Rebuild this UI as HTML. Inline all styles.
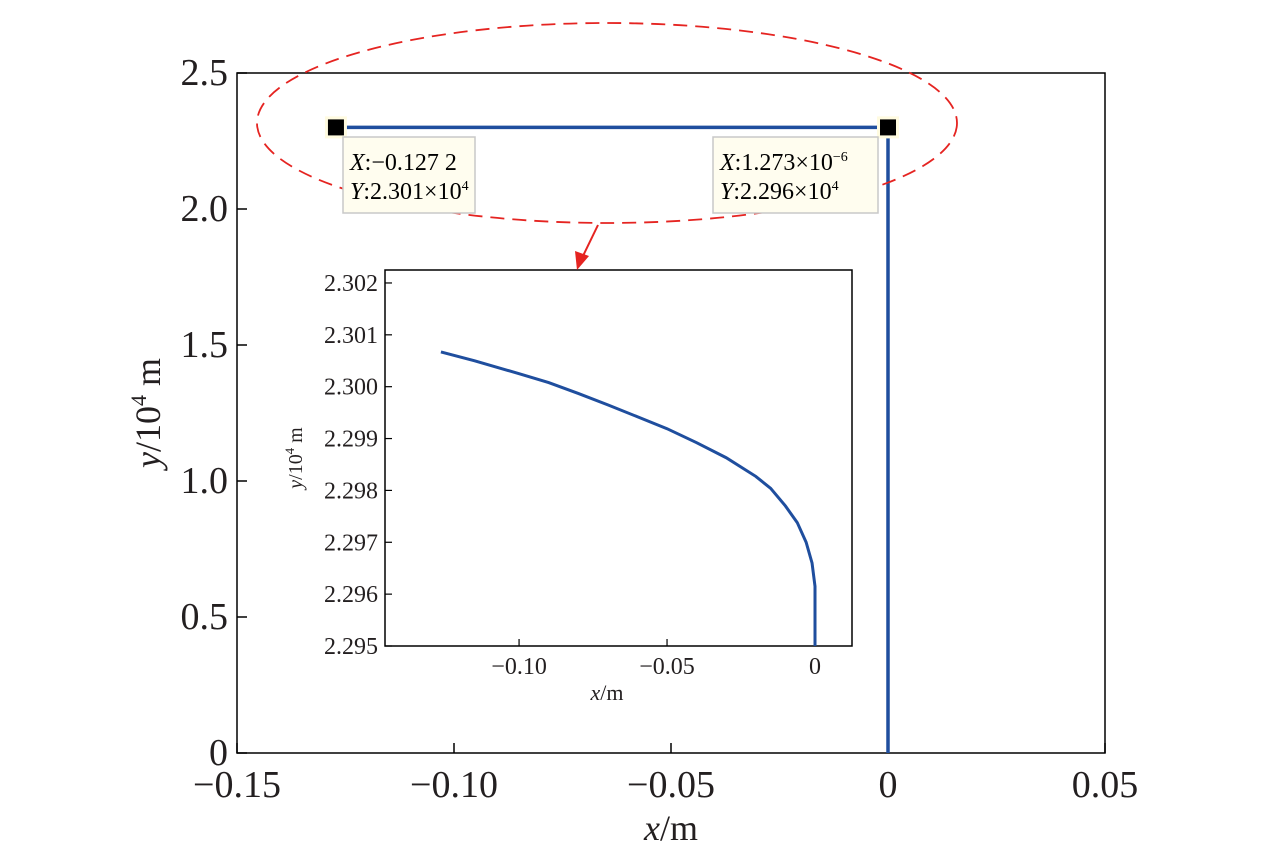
<!DOCTYPE html>
<html><head><meta charset="utf-8"><style>
body{margin:0;background:#fff}
svg{font-family:"Liberation Serif",serif}
</style></head><body>
<svg width="1276" height="849" viewBox="0 0 1276 849">
<g id="main"></g>
<g id="inset"></g>
<g>
<ellipse cx="607" cy="123" rx="350" ry="100" fill="none" stroke="#e52421" stroke-width="1.8" stroke-dasharray="14,8"/>
<line x1="598" y1="225" x2="582" y2="258" stroke="#e52421" stroke-width="2"/>
<polygon points="577,270 575,251 589,256" fill="#e52421"/>
</g>
<g>
<rect x="343" y="137" width="132" height="76" fill="#fffdef" stroke="#c8c8c8" stroke-width="1.5"/>
<text x="350" y="170" font-size="24"><tspan font-style="italic">X</tspan>:−0.127 2</text>
<text x="350" y="199" font-size="24"><tspan font-style="italic">Y</tspan>:2.301×10<tspan font-size="14" dy="-9">4</tspan></text>
</g>
<g>
<rect x="713" y="137" width="165" height="76" fill="#fffdef" stroke="#c8c8c8" stroke-width="1.5"/>
<text x="720" y="170" font-size="24"><tspan font-style="italic">X</tspan>:1.273×10<tspan font-size="14" dy="-9">−6</tspan></text>
<text x="720" y="199" font-size="24"><tspan font-style="italic">Y</tspan>:2.296×10<tspan font-size="14" dy="-9">4</tspan></text>
</g>
</svg>
<script>
const NS="http://www.w3.org/2000/svg";
function mk(p,t,a,txt){const e=document.createElementNS(NS,t);for(const k in a)e.setAttribute(k,a[k]);if(txt!=null)e.textContent=txt;p.appendChild(e);return e;}
// main data
const mainX=[-0.1272,0.0000,0.0000];
const mainY=[2.30,2.30,0];
const mainXTicks=[-0.15,-0.10,-0.05,0,0.05];
const mainXLabels=["−0.15","−0.10","−0.05","0","0.05"];
const mainYTicks=[0,0.5,1.0,1.5,2.0,2.5];
const mainYLabels=["0","0.5","1.0","1.5","2.0","2.5"];
const tipX=[-0.1272,0.000001273];
const tipY=[2.30,2.30];
// inset data
const inX=[-0.1264,-0.115,-0.10,-0.09,-0.08,-0.07,-0.06,-0.05,-0.04,-0.03,-0.02,-0.015,-0.01,-0.006,-0.003,-0.001,0,0];
const inY=[2.30067,2.30050,2.30025,2.30008,2.29987,2.29965,2.29942,2.29919,2.29892,2.29863,2.29827,2.29804,2.29770,2.29738,2.29700,2.29660,2.29615,2.295];
const inXTicks=[-0.10,-0.05,0];
const inXLabels=["−0.10","−0.05","0"];
const inYTicks=[2.295,2.296,2.297,2.298,2.299,2.300,2.301,2.302];
const inYLabels=["2.295","2.296","2.297","2.298","2.299","2.300","2.301","2.302"];

const M=document.getElementById('main');
const mx=v=>237+(v+0.15)/0.2*868, my=v=>753-v/2.5*680;
let r=mk(M,'rect',{x:237,y:73,width:868,height:680,fill:'none',stroke:'#000','stroke-width':1.5});

mainXTicks.forEach((t,i)=>{const x=mx(t);
 let l=mk(M,'line',{x1:x,y1:753,x2:x,y2:743,stroke:'#000','stroke-width':1.5});
 
 let tx=mk(M,'text',{x:x,y:797,'font-size':38,'text-anchor':'middle',fill:'#231f20'},mainXLabels[i]);
 });
mainYTicks.forEach((t,i)=>{const y=my(t);
 let l=mk(M,'line',{x1:237,y1:y,x2:247,y2:y,stroke:'#000','stroke-width':1.5});
 
 let tx=mk(M,'text',{x:228,y:y+12,'font-size':38,'text-anchor':'end',fill:'#231f20'},mainYLabels[i]);
 });
let xt=mk(M,'text',{x:671,y:840,'font-size':36,'text-anchor':'middle',fill:'#231f20'});
xt.innerHTML='<tspan font-style="italic">x</tspan>/m';

let yt=mk(M,'text',{transform:'translate(160,413) rotate(-90)','font-size':36,'text-anchor':'middle',fill:'#231f20'});
yt.innerHTML='<tspan font-style="italic">y</tspan>/10<tspan font-size="22" dy="-14">4</tspan><tspan dy="14"> m</tspan>';

let pl=mk(M,'polyline',{points:mainX.map((v,i)=>mx(v)+','+my(mainY[i])).join(' '),fill:'none',stroke:'#1f4e9e','stroke-width':3.5});

tipX.forEach((v,i)=>{const x=mx(v),y=my(tipY[i]);
 let q=mk(M,'rect',{x:x-11,y:y-11,width:22,height:22,fill:'#fffbe0'});
 
 let s=mk(M,'rect',{x:x-8,y:y-8,width:16,height:16,fill:'#000'});
 });

const I=document.getElementById('inset');
const ix=v=>385+(v+0.1453)/0.1578*467, iy=v=>646-(v-2.295)/0.00725*376;
let r2=mk(I,'rect',{x:385,y:270,width:467,height:376,fill:'#fff',stroke:'#000','stroke-width':1.5});

inXTicks.forEach((t,i)=>{const x=ix(t);
 let l=mk(I,'line',{x1:x,y1:646,x2:x,y2:639,stroke:'#000','stroke-width':1.2});
 
 let tx=mk(I,'text',{x:x,y:674,'font-size':24,'text-anchor':'middle',fill:'#231f20'},inXLabels[i]);
 });
inYTicks.forEach((t,i)=>{const y=iy(t);
 let l=mk(I,'line',{x1:385,y1:y,x2:392,y2:y,stroke:'#000','stroke-width':1.2});
 
 let tx=mk(I,'text',{x:378,y:y+8,'font-size':24,'text-anchor':'end',fill:'#231f20'},inYLabels[i]);
 });
let ixt=mk(I,'text',{x:607,y:700,'font-size':22,'text-anchor':'middle',fill:'#231f20'});
ixt.innerHTML='<tspan font-style="italic">x</tspan>/m';

let iyt=mk(I,'text',{transform:'translate(302,458) rotate(-90)','font-size':20,'text-anchor':'middle',fill:'#231f20'});
iyt.innerHTML='<tspan font-style="italic">y</tspan>/10<tspan font-size="13" dy="-8">4</tspan><tspan dy="8"> m</tspan>';

let ipl=mk(I,'polyline',{points:inX.map((v,i)=>ix(v)+','+iy(inY[i])).join(' '),fill:'none',stroke:'#1f4e9e','stroke-width':3});

</script>
</body></html>
